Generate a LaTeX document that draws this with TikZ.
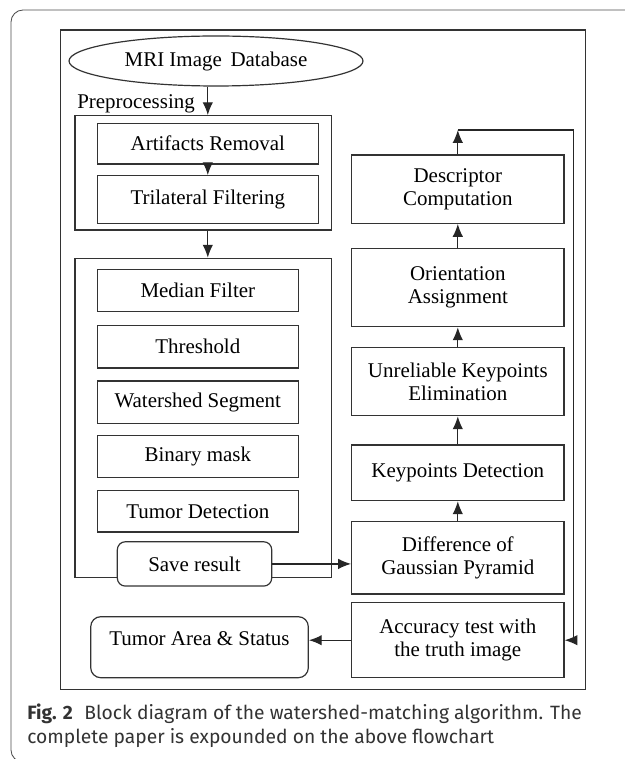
\documentclass[tikz,border=0pt]{standalone}
\usepackage{fontspec}
\setmainfont{Liberation Serif}
\newfontfamily\capfont{Fira Sans}
\usetikzlibrary{arrows.meta, positioning, shapes.geometric}
\tikzset{
  every node/.style={font=\fontsize{14.9}{16.6}\selectfont},
  box/.style={
    draw=black!80, line width=0.85pt, fill=white,
    align=center, inner sep=2pt, text=black
  },
  rbox/.style={box, rounded corners=2mm},
  frame/.style={draw=black!80, line width=0.85pt},
  arr/.style={-{Latex[length=3.2mm,width=2.6mm]}, line width=0.85pt, black!85},
}

\begin{document}
\begin{tikzpicture}
    \useasboundingbox (0,0) rectangle (15.625,-18.975);
    % Outer panel
    \draw[black!70, line width=0.6pt, rounded corners=3mm] (0.275,-0.25) rectangle (16.3,-19.05);
    \node[frame, minimum width=13.123cm, minimum height=16.483cm] (outline) at (8.079,-8.991) {};

    % Left column
    \node[box, ellipse, minimum width=7.35cm, minimum height=1.25cm] (db) at (5.4,-1.525)
      {MRI Image\, Database};
    \node[anchor=west, inner sep=0pt] (prelabel) at (1.925,-2.6) {Preprocessing};

    \node[frame, minimum width=6.418cm, minimum height=2.858cm] (pre) at (5.084,-4.321) {};
    \node[box, minimum width=5.525cm, minimum height=1.018cm] (art) at (5.195,-3.593)
      {Artifacts Removal};
    \node[box, minimum width=5.525cm, minimum height=1.19cm] (tri) at (5.195,-4.988)
      {Trilateral Filtering};

    \node[frame, minimum width=6.418cm, minimum height=7.975cm] (seg) at (5.084,-10.445) {};
    \node[box, minimum width=5.025cm, minimum height=1.06cm] (median) at (4.945,-7.263) {Median Filter};
    \node[box, minimum width=5.025cm, minimum height=1.06cm] (thresh) at (4.945,-8.668) {Threshold};
    \node[box, minimum width=5.025cm, minimum height=1.06cm] (water) at (4.945,-10.055) {Watershed Segment};
    \node[box, minimum width=5.025cm, minimum height=1.06cm] (binmask) at (4.945,-11.413) {Binary mask};
    \node[box, minimum width=5.025cm, minimum height=1.04cm] (tumdet) at (4.945,-12.78) {Tumor Detection};
    \node[rbox, minimum width=3.86cm, minimum height=1.108cm] (save) at (4.863,-14.098) {Save result};

    \node[rbox, rounded corners=2.5mm, minimum width=5.44cm, minimum height=1.525cm, text depth=0.45cm]
      (area) at (4.988,-16.18) {Tumor Area \& Status};

    % Right column
    \node[box, minimum width=5.308cm, minimum height=1.708cm] (desc) at (11.445,-4.73)
      {Descriptor\\ Computation};
    \node[box, minimum width=5.308cm, minimum height=1.96cm] (orient) at (11.445,-7.188)
      {Orientation\\ Assignment};
    \node[box, minimum width=5.308cm, minimum height=1.71cm] (unrel) at (11.445,-9.538)
      {Unreliable Keypoints\\ Elimination};
    \node[box, minimum width=5.308cm, minimum height=1.393cm] (keydet) at (11.445,-11.82)
      {Keypoints Detection};
    \node[box, minimum width=5.308cm, minimum height=1.808cm] (dog) at (11.445,-13.945)
      {Difference of\\ Gaussian Pyramid};
    \node[box, minimum width=5.308cm, minimum height=1.875cm] (acc) at (11.445,-16.005)
      {Accuracy test with\\ the truth image};

    \coordinate (loopL) at (11.445,-3.25);
    \coordinate (loopR) at (14.333,-3.25);

    % Arrows
    \draw[arr] (db.south -| art.north) -- (art.north |- pre.north);
    \draw[arr] (art) -- (tri);
    \draw[arr] (pre.south -| art.north) -- (art.north |- seg.north);
    \draw[arr] (save.east) -- (save.east -| dog.west);
    \draw[arr] (dog) -- (keydet);
    \draw[arr] (keydet) -- (unrel);
    \draw[arr] (unrel) -- (orient);
    \draw[arr] (orient) -- (desc);
    \draw[arr] (desc) -- (loopL);
    \draw[arr] (loopL) -- (loopR) |- (acc.east);
    \draw[arr] (acc.west) -- (acc.west -| area.east);

    % Caption
    \node[anchor=north west, inner sep=0pt, align=left, text=black!80,
      font=\capfont\fontsize{13.7}{17}\selectfont] (caption) at (0.675,-17.6)
      {\textbf{Fig. 2}\hspace{0.6em}Block diagram of the watershed-matching algorithm. The\\
       complete paper is expounded on the above flowchart};
\end{tikzpicture}
\end{document}
